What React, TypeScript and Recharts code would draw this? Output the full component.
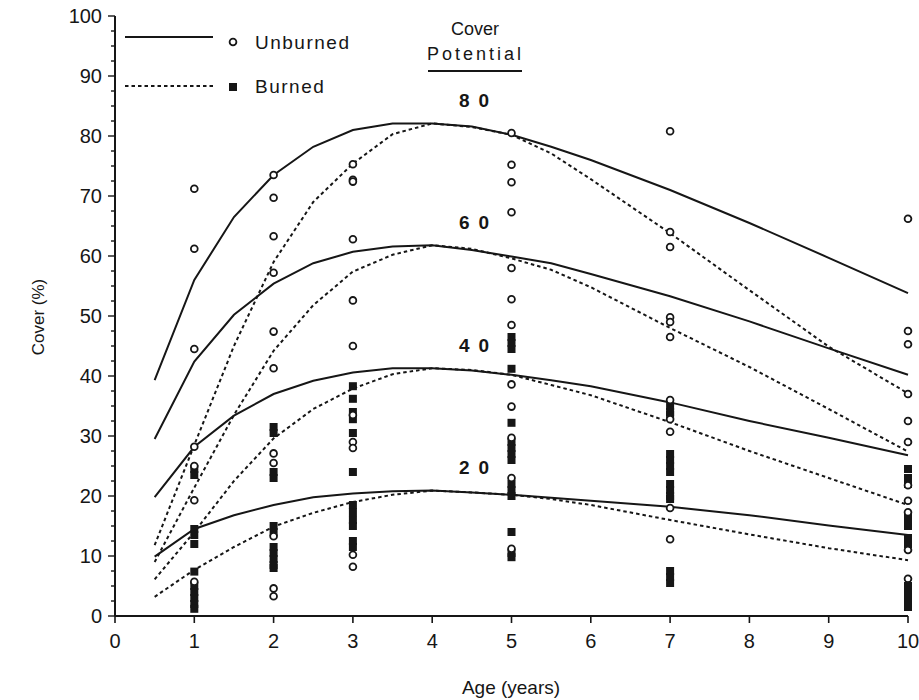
import { ComposedChart, Line, Scatter, XAxis, YAxis } from "recharts";

// fitted curves
const curveAges = [0.5, 1, 1.5, 2, 2.5, 3, 3.5, 4, 4.5, 5, 5.5, 6, 7, 8, 9, 10];
const unburned80 = [39.3, 56, 66.5, 73.5, 78.2, 81, 82.1, 82.1, 81.6, 80.2, 78.2, 76, 71, 65.5, 59.7, 53.8];
const unburned60 = [29.5, 42.4, 50.2, 55.4, 58.8, 60.7, 61.6, 61.8, 61, 59.9, 58.8, 57, 53.3, 49.1, 44.6, 40.2];
const unburned40 = [19.8, 28.2, 33.4, 37, 39.2, 40.6, 41.3, 41.3, 40.9, 40.2, 39.3, 38.3, 35.6, 32.5, 29.7, 26.8];
const unburned20 = [9.9, 14.5, 16.8, 18.5, 19.8, 20.4, 20.8, 20.9, 20.6, 20.2, 19.7, 19.2, 18.2, 16.8, 15.1, 13.5];
const burned80 = [11.8, 28.5, 45, 59, 69, 75.4, 80.3, 82.1, 81.5, 80.2, 77.1, 72.8, 63.8, 54.3, 44.9, 37.1];
const burned60 = [9, 21.4, 33.5, 44.2, 51.8, 57.4, 60.2, 61.8, 61.2, 59.6, 57.7, 54.8, 48, 41.5, 34.5, 27.4];
const burned40 = [6.1, 14, 22.5, 29.6, 34.5, 37.9, 40.3, 41.3, 41, 40.2, 38.5, 36.8, 32.3, 27.5, 23, 18.5];
const burned20 = [3.2, 7.7, 11.5, 14.9, 17.2, 19, 20.2, 20.9, 20.6, 20.2, 19.5, 18.5, 16, 13.6, 11.3, 9.3];

// observed plots, by stand age
const unburnedObs: [number, number[]][] = [
  [1, [71.2, 61.2, 44.5, 28.2, 25, 19.3, 5.7]],
  [2, [73.5, 69.7, 63.3, 57.2, 47.4, 41.3, 27.1, 25.5, 13.3, 4.6, 3.3]],
  [3, [75.3, 72.7, 72.4, 62.8, 52.6, 45, 33.5, 29, 28, 10.2, 8.2]],
  [5, [80.5, 75.2, 72.3, 67.3, 58, 52.8, 48.5, 38.6, 34.9, 29.7, 23, 11.2]],
  [7, [80.8, 64, 61.5, 49.8, 49, 46.5, 36, 32.8, 30.7, 18, 12.8]],
  [10, [66.2, 47.5, 45.3, 37, 32.5, 29, 21.8, 19.2, 17.3, 11, 6.2]],
];
const burnedObs: [number, number[]][] = [
  [1, [24.5, 23.5, 14.5, 13.5, 12, 7.4, 5, 4, 3, 2, 1.2]],
  [2, [31.5, 30.5, 24, 23, 15, 14, 11.5, 10.5, 9.5, 8.5, 8]],
  [3, [38.3, 36.2, 34, 32.8, 30.5, 24, 18.5, 17.3, 16, 15, 12.5, 11.5]],
  [5, [46.5, 45.5, 44.5, 41.2, 32.2, 29, 28, 27, 26, 22, 21, 20, 14, 10.5, 9.8]],
  [7, [35, 34, 33.5, 27, 26, 25, 24, 22, 21, 20, 19.5, 7.5, 6.5, 5.5]],
  [10, [24.5, 23, 22, 16.5, 15.5, 15, 13, 12, 5, 4, 3, 2, 1.5]],
];

const xTicks = [0, 1, 2, 3, 4, 5, 6, 7, 8, 9, 10];
const yTicks = Array.from({ length: 41 }, (_, i) => i * 2.5);
const potentials = [
  { label: "80", y: 100 },
  { label: "60", y: 222 },
  { label: "40", y: 345 },
  { label: "20", y: 467 },
];

const curveRows = curveAges.map((age, i) => ({
  age,
  u80: unburned80[i],
  u60: unburned60[i],
  u40: unburned40[i],
  u20: unburned20[i],
  b80: burned80[i],
  b60: burned60[i],
  b40: burned40[i],
  b20: burned20[i],
}));

const flatten = (obs: [number, number[]][]) =>
  obs.flatMap(([age, vals]) => vals.map((cover) => ({ age, cover })));

const FONT = "'Liberation Sans', Arial, sans-serif";
const INK = "#161616";

const XTick = (props: any) => {
  const { x, y, payload } = props;
  return (
    <g>
      <line x1={x} x2={x} y1={y} y2={y + 7} stroke={INK} strokeWidth={1.6} />
      <text x={x} y={y + 32} textAnchor="middle" fontSize={20} fill={INK} fontFamily={FONT}>
        {payload.value}
      </text>
    </g>
  );
};

const YTick = (props: any) => {
  const { x, y, payload } = props;
  const major = payload.value % 10 === 0;
  return (
    <g>
      <line x1={x - (major ? 7 : 4)} x2={x} y1={y} y2={y} stroke={INK} strokeWidth={1.4} />
      {major && (
        <text x={x - 13} y={y} dy="0.35em" textAnchor="end" fontSize={20} fill={INK} fontFamily={FONT}>
          {payload.value}
        </text>
      )}
    </g>
  );
};

const OpenCircle = (props: any) => (
  <circle cx={props.cx} cy={props.cy} r={3.4} fill="#fff" stroke={INK} strokeWidth={1.8} />
);

const FilledSquare = (props: any) => (
  <rect x={props.cx - 4} y={props.cy - 4} width={8} height={8} fill={INK} />
);

export default function App() {
  const solid = { stroke: INK, strokeWidth: 2, dot: false, activeDot: false, isAnimationActive: false, type: "linear" as const };
  const dotted = { ...solid, strokeDasharray: "3.5 3" };
  return (
    <div style={{ position: "absolute", left: 0, top: 0, width: 919, height: 700, background: "#fff" }}>
      <ComposedChart width={919} height={700} data={curveRows} margin={{ top: 16, right: 11, bottom: 54, left: 75 }}>
        <XAxis
          dataKey="age"
          type="number"
          domain={[0, 10]}
          ticks={xTicks}
          interval={0}
          tickSize={0}
          tickMargin={0}
          height={30}
          tickLine={false}
          axisLine={{ stroke: INK, strokeWidth: 2 }}
          tick={<XTick />}
        />
        <YAxis
          dataKey="cover"
          type="number"
          domain={[0, 100]}
          ticks={yTicks}
          interval={0}
          tickSize={0}
          tickMargin={0}
          width={40}
          tickLine={false}
          axisLine={{ stroke: INK, strokeWidth: 2 }}
          tick={<YTick />}
        />
        <Line dataKey="u80" {...solid} />
        <Line dataKey="u60" {...solid} />
        <Line dataKey="u40" {...solid} />
        <Line dataKey="u20" {...solid} />
        <Line dataKey="b80" {...dotted} />
        <Line dataKey="b60" {...dotted} />
        <Line dataKey="b40" {...dotted} />
        <Line dataKey="b20" {...dotted} />
        <Scatter data={flatten(burnedObs)} dataKey="cover" shape={<FilledSquare />} isAnimationActive={false} />
        <Scatter data={flatten(unburnedObs)} dataKey="cover" shape={<OpenCircle />} isAnimationActive={false} />
      </ComposedChart>
      <svg width={919} height={700} style={{ position: "absolute", left: 0, top: 0, pointerEvents: "none" }} fontFamily={FONT} fill={INK}>
        <line x1={125} x2={213} y1={37} y2={37} stroke={INK} strokeWidth={2} />
        <circle cx={233} cy={42} r={3.4} fill="#fff" stroke={INK} strokeWidth={1.8} />
        <text x={255} y={49} fontSize={19} letterSpacing={1.5}>Unburned</text>
        <line x1={125} x2={213} y1={86} y2={86} stroke={INK} strokeWidth={2} strokeDasharray="3.5 3" />
        <rect x={229} y={83} width={8} height={8} fill={INK} />
        <text x={255} y={93} fontSize={19} letterSpacing={1.5}>Burned</text>
        <text x={475} y={35} fontSize={18} textAnchor="middle">Cover</text>
        <text x={427} y={60} fontSize={18} letterSpacing={3}>Potential</text>
        <line x1={428} x2={522} y1={71} y2={71} stroke={INK} strokeWidth={2} />
        {potentials.map((p) => (
          <text key={p.label} x={459} y={p.y + 7} fontSize={19} fontWeight="bold" letterSpacing={9}>
            {p.label}
          </text>
        ))}
        <text x={38} y={317} fontSize={17} textAnchor="middle" dy="0.35em" transform="rotate(-90 38 317)">
          Cover (%)
        </text>
        <text x={511} y={694} fontSize={19} textAnchor="middle">Age (years)</text>
      </svg>
    </div>
  );
}
